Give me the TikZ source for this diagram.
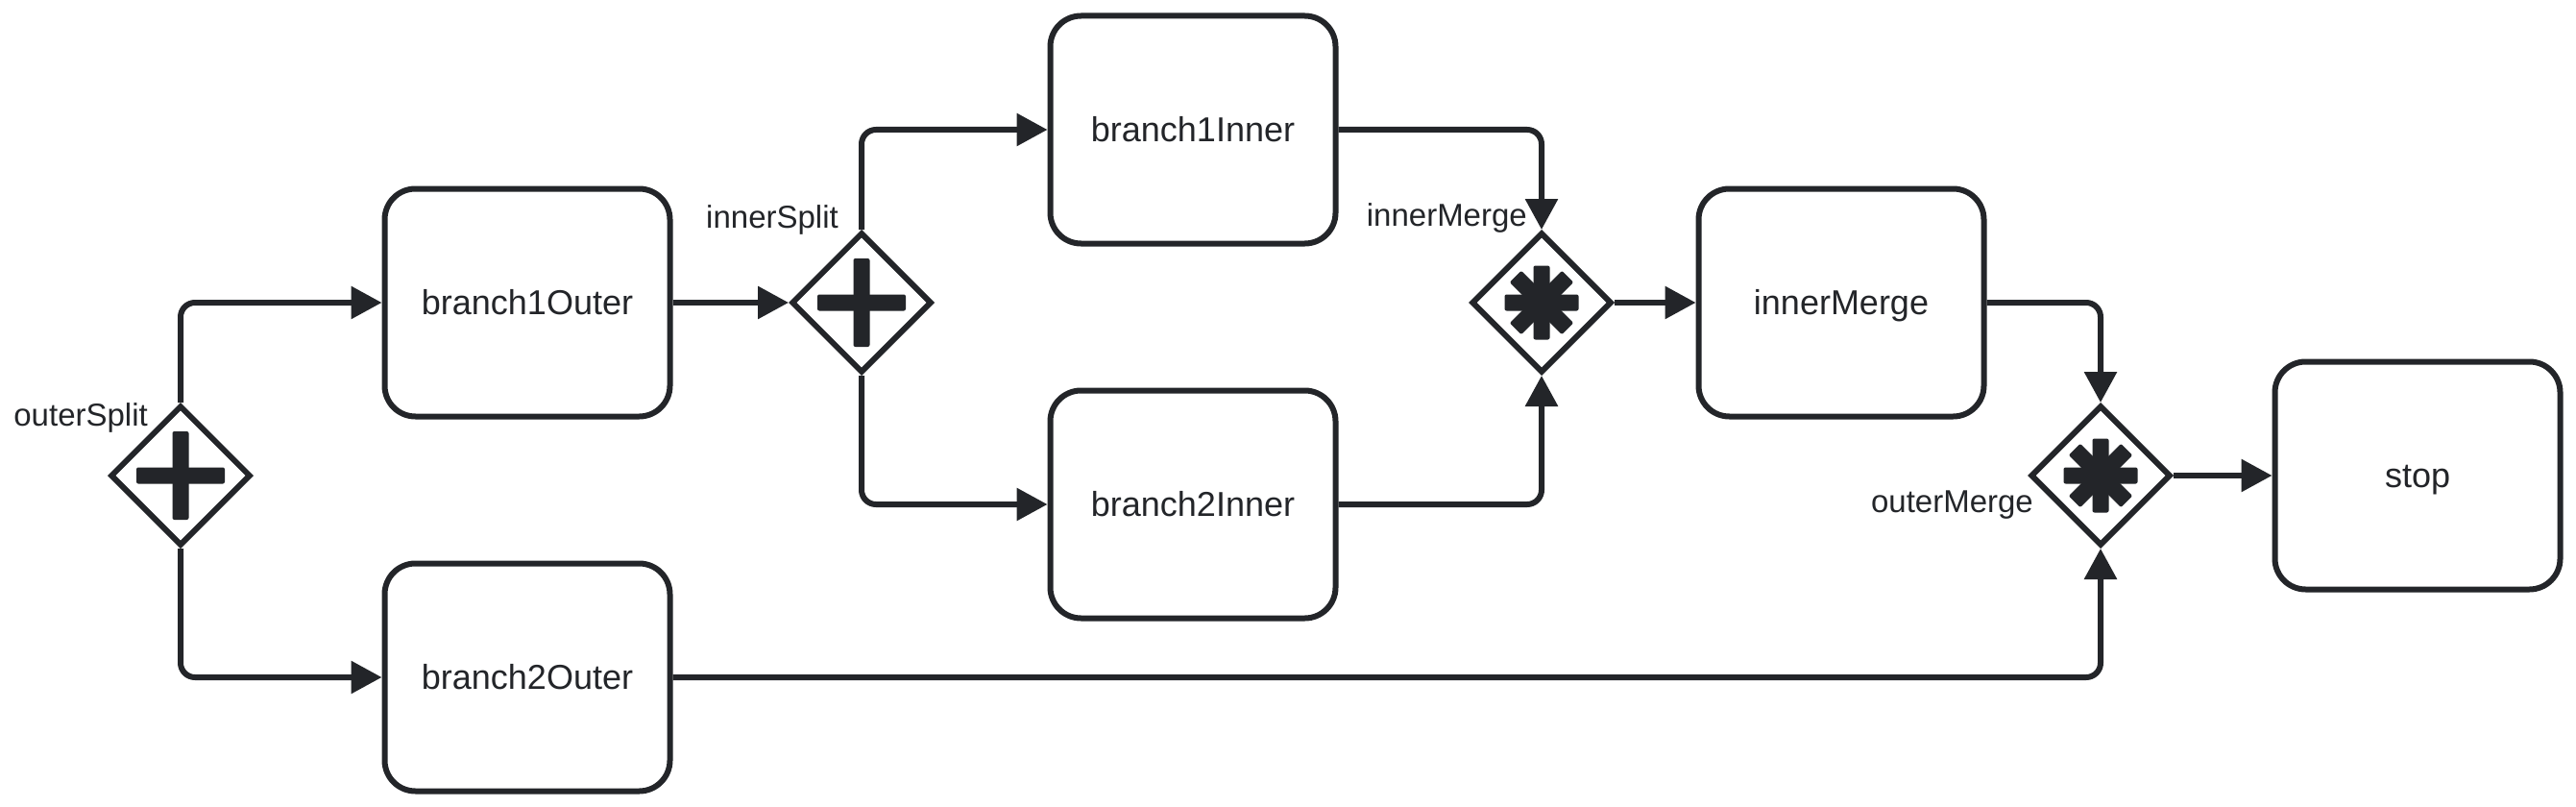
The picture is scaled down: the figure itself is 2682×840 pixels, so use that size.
\documentclass[tikz,border=0pt]{standalone}
\usepackage{fontspec}
\setmainfont{Liberation Sans}
\usetikzlibrary{shapes.geometric,arrows.meta}
\definecolor{fg}{RGB}{35,37,41}
\tikzset{
  task/.style={draw=fg, line width=6pt, rounded corners=32pt, fill=white,
    minimum width=297pt, minimum height=237pt, inner sep=0pt,
    text=fg, font=\fontsize{36}{43}\selectfont, text height=25.8pt, text depth=0pt},
  gw/.style={draw=fg, line width=6pt, diamond, fill=white, aspect=1,
    minimum width=146pt, minimum height=146pt, inner sep=0pt},
  glabel/.style={text=fg, font=\fontsize{33}{40}\selectfont, inner sep=0pt, anchor=base east},
  flow/.style={draw=fg, line width=6pt, rounded corners=15pt,
    -{Triangle[length=32pt,width=33pt]}},
}
\begin{document}
\begin{tikzpicture}[x=1pt,y=-1pt]
\useasboundingbox (0,0) rectangle (2682,840);
\fill[white] (0,0) rectangle (2682,840);

% tasks
\node[task] (b1o) at (549,315) {branch1Outer};
\node[task] (b2o) at (549,705) {branch2Outer};
\node[task] (b1i) at (1242,135) {branch1Inner};
\node[task] (b2i) at (1242,525) {branch2Inner};
\node[task] (imb) at (1917,315) {innerMerge};
\node[task] (stop) at (2517,495) {stop};

% gateways
\node[gw] (os) at (188,495) {};
\node[gw] (is) at (897,315) {};
\node[gw] (im) at (1605,315) {};
\node[gw] (om) at (2187,495) {};

% plus icons
\foreach \g in {os,is}{
  \begin{scope}[shift={(\g.center)}]
    \fill[fg, rounded corners=2pt] (-46,-8.5) rectangle (46,8.5);
    \fill[fg, rounded corners=2pt] (-8.5,-46) rectangle (8.5,46);
  \end{scope}
}
% asterisk icons
\foreach \g in {im,om}{
  \begin{scope}[shift={(\g.center)}]
    \foreach \a in {0,45,90,135}{
      \fill[fg, rounded corners=2pt, rotate=\a] (-38.5,-8.5) rectangle (38.5,8.5);
    }
  \end{scope}
}

% gateway labels
\node[glabel] (los) at (154,443) {outerSplit};
\node[glabel] (lis) at (873,237) {innerSplit};
\node[glabel] (lim) at (1590,235) {innerMerge};
\node[glabel] (lom) at (2117,533) {outerMerge};

% flows
\draw[flow] (os.north) |- (b1o.west);
\draw[flow] (os.south) |- (b2o.west);
\draw[flow] (b1o.east) -- (is.west);
\draw[flow] (is.north) |- (b1i.west);
\draw[flow] (is.south) |- (b2i.west);
\draw[flow] (b1i.east) -| (im.north);
\draw[flow] (b2i.east) -| (im.south);
\draw[flow] (im.east) -- (imb.west);
\draw[flow] (imb.east) -| (om.north);
\draw[flow] (b2o.east) -| (om.south);
\draw[flow] (om.east) -- (stop.west);
\end{tikzpicture}
\end{document}
